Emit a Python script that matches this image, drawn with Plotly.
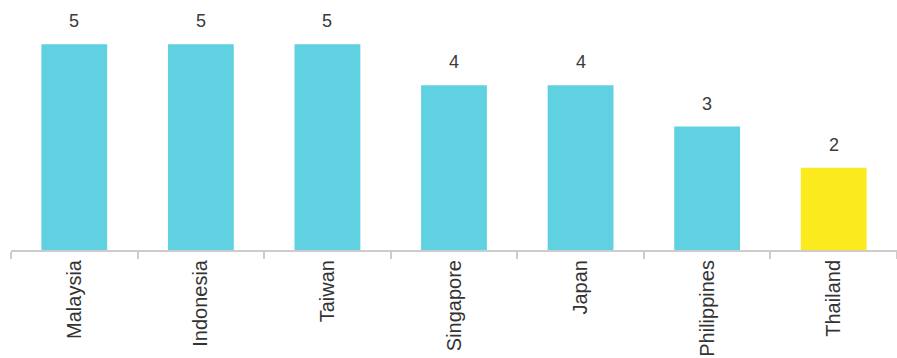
import plotly.graph_objects as go

countries = ["Malaysia", "Indonesia", "Taiwan", "Singapore", "Japan", "Philippines", "Thailand"]
scores = [5, 5, 5, 4, 4, 3, 2]
bar_colors = ["#5fd1e0"] * 6 + ["#fbea1e"]

fig = go.Figure(
    go.Bar(
        x=countries,
        y=scores,
        marker=dict(color=bar_colors, line=dict(width=0)),
        width=0.52,
        hoverinfo="skip",
    )
)

# value labels above each bar
for c, v in zip(countries, scores):
    fig.add_annotation(
        x=c, y=v, text=str(v), showarrow=False,
        yanchor="bottom", yshift=11,
        font=dict(family="Liberation Sans, Arial", size=18, color="#3a3a3a"),
    )

fig.update_layout(
    width=897, height=358,
    margin=dict(l=11, r=0, t=3, b=108),
    plot_bgcolor="white", paper_bgcolor="white",
    showlegend=False,
    font=dict(family="Liberation Sans, Arial", size=20, color="#333333"),
    xaxis=dict(
        showline=True, linecolor="#cccccc", linewidth=2,
        ticks="outside", tickson="boundaries", ticklen=7, tickcolor="#cccccc", tickwidth=2,
        tickangle=-90, showgrid=False, zeroline=False,
    ),
    yaxis=dict(range=[0, 6], visible=False, showgrid=False, zeroline=False),
)

fig.write_html("out.html")
